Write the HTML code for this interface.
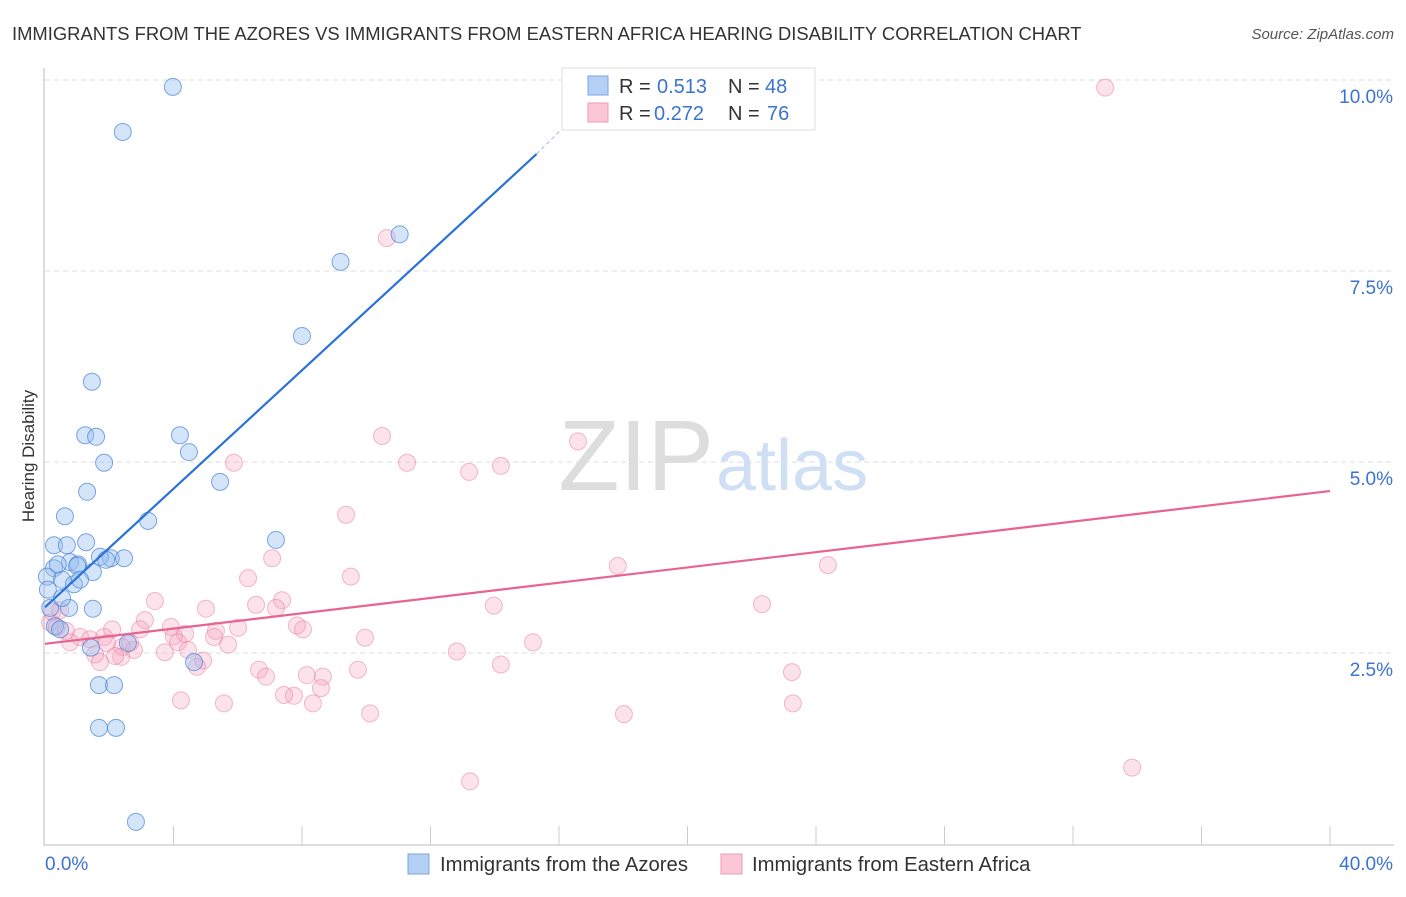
<!DOCTYPE html>
<html><head><meta charset="utf-8"><style>
body{margin:0;background:#fff;font-family:"Liberation Sans",sans-serif}
svg text{font-family:"Liberation Sans",sans-serif}
</style></head><body>
<svg id="chart" width="1406" height="892" viewBox="0 0 1406 892">
<text x="12" y="40" font-size="18.4" fill="#333">IMMIGRANTS FROM THE AZORES VS IMMIGRANTS FROM EASTERN AFRICA HEARING DISABILITY CORRELATION CHART</text>
<text x="1394" y="39" font-size="15" fill="#555" text-anchor="end" font-style="italic">Source: ZipAtlas.com</text>
<text x="34" y="456" font-size="17" fill="#333" text-anchor="middle" transform="rotate(-90 34 456)">Hearing Disability</text>
<g id="grid"></g>
<g id="axes"></g>
<text x="714" y="490" font-size="100" fill="#ddd" text-anchor="end" font-family="Liberation Serif">ZIP</text>
<text x="716" y="490" font-size="72" fill="#cfe0f4">atlas</text>
<g id="pts"></g>
<g id="lines"></g>
<g>
<rect x="562" y="68" width="253" height="62" fill="#fff" stroke="#ddd"/>
<rect x="588" y="76" width="20" height="19" fill="#b5d0f5" stroke="#7aa6e6"/>
<rect x="588" y="103" width="20" height="19" fill="#fbc6d6" stroke="#f09ab4"/>
<text x="619" y="93" font-size="20" fill="#333">R =</text>
<text x="657" y="93" font-size="20" fill="#3b73d1">0.513</text>
<text x="728" y="93" font-size="20" fill="#333">N =</text>
<text x="765" y="93" font-size="20" fill="#3b73d1">48</text>
<text x="619" y="120" font-size="20" fill="#333">R =</text>
<text x="654" y="120" font-size="20" fill="#3b73d1">0.272</text>
<text x="728" y="120" font-size="20" fill="#333">N =</text>
<text x="767" y="120" font-size="20" fill="#3b73d1">76</text>
</g>
<g>
<rect x="408" y="854" width="21" height="20" fill="#b5d0f5" stroke="#7aa6e6"/>
<text x="440" y="871" font-size="20.3" fill="#333">Immigrants from the Azores</text>
<rect x="721" y="854" width="21" height="20" fill="#fbc6d6" stroke="#f09ab4"/>
<text x="752" y="871" font-size="20.3" fill="#333">Immigrants from Eastern Africa</text>
</g>
</svg>
<script>
const yTicks=[2.5,5.0,7.5,10.0];
const yTickLabels=["2.5%","5.0%","7.5%","10.0%"];
const xTickLabels=["0.0%","40.0%"];
const blueX=[3.98,2.42,11.04,9.20,8.00,1.46,1.25,1.59,4.20,4.48,1.84,5.45,1.31,0.62,3.21,7.19,0.28,0.68,1.28,2.05,2.46,0.78,1.03,1.71,0.28,1.00,1.49,0.06,0.53,0.90,0.16,0.75,1.49,0.31,0.47,1.43,2.58,4.64,1.68,2.15,1.68,2.21,2.83,0.40,0.09,0.53,1.09,1.90];
const blueY=[9.91,9.32,7.98,7.62,6.65,6.05,5.35,5.33,5.35,5.13,4.99,4.74,4.61,4.29,4.23,3.98,3.91,3.91,3.95,3.74,3.74,3.69,3.66,3.76,3.61,3.64,3.56,3.50,3.46,3.40,3.09,3.09,3.08,2.85,2.81,2.57,2.63,2.38,2.08,2.08,1.52,1.52,0.29,3.66,3.33,3.22,3.46,3.72];
const pinkX=[33.00,10.64,10.49,16.59,11.27,13.20,14.19,5.88,9.37,7.07,17.83,24.37,9.52,6.32,22.32,13.97,7.38,3.42,5.01,7.19,6.57,3.11,2.09,3.92,7.84,8.03,2.96,5.32,6.01,4.36,4.01,9.96,15.19,5.26,4.14,1.09,1.40,1.84,0.78,0.16,0.37,1.93,2.40,2.65,2.77,4.45,5.70,3.73,12.82,2.37,1.71,4.92,4.73,6.66,9.74,14.19,6.88,8.65,8.59,23.25,8.15,7.75,7.44,4.23,5.57,8.34,23.28,18.02,10.12,33.84,13.23,1.56,0.47,2.18,0.22,0.65];
const pinkY=[9.90,7.93,5.34,5.27,4.99,4.87,4.95,4.99,4.31,3.74,3.64,3.65,3.50,3.48,3.14,3.12,3.19,3.18,3.08,3.09,3.13,2.93,2.81,2.84,2.86,2.81,2.81,2.79,2.83,2.75,2.72,2.70,2.64,2.71,2.64,2.71,2.68,2.71,2.64,2.90,2.84,2.63,2.58,2.63,2.54,2.54,2.61,2.51,2.52,2.45,2.38,2.40,2.32,2.28,2.28,2.35,2.19,2.19,2.04,2.25,2.21,1.94,1.95,1.88,1.84,1.84,1.84,1.70,1.71,1.00,0.82,2.48,3.06,2.46,3.04,2.79];
const blueTrend=[0,3.10,15.3,9.03];
const blueDash=[15.3,9.03,16.93,9.71];
const pinkTrend=[0,2.62,40,4.62];
const X0=45,X1=1330,Y0=844,Y1=80;
const sx=v=>X0+(X1-X0)*v/40, sy=v=>Y0-(Y0-Y1)*v/10;
const NS='http://www.w3.org/2000/svg';
function mk(t,a,p){const e=document.createElementNS(NS,t);for(const k in a)e.setAttribute(k,a[k]);p.appendChild(e);return e;}
const grid=document.getElementById('grid'),axes=document.getElementById('axes');
yTicks.forEach((v,i)=>{
 const g=mk('line',{x1:X0,x2:1394,y1:sy(v),y2:sy(v),stroke:'#ddd','stroke-dasharray':'5,4'},grid);
 
 
 const t=mk('text',{x:1393,y:sy(v)+23,'font-size':19,fill:'#3b73d1','text-anchor':'end'},axes);
 t.textContent=yTickLabels[i];
 
 
});
const ax=mk('path',{d:`M44 68V845H1394`,stroke:'#bbb',fill:'none'},axes);


for(let i=1;i<=10;i++){const tk=mk('line',{x1:sx(i*4),x2:sx(i*4),y1:826,y2:845,stroke:'#ccc'},axes);
 
 }
const xl0=mk('text',{x:45,y:870,'font-size':19,fill:'#3b73d1'},axes);xl0.textContent=xTickLabels[0];


const xl1=mk('text',{x:1393,y:870,'font-size':19,fill:'#3b73d1','text-anchor':'end'},axes);xl1.textContent=xTickLabels[1];


const pts=document.getElementById('pts');
pinkX.forEach((x,i)=>{const c=mk('circle',{cx:sx(x),cy:sy(pinkY[i]),r:8.5,fill:'rgba(246,160,188,0.3)',stroke:'rgba(232,120,158,0.5)','stroke-width':1},pts);
 
 });
blueX.forEach((x,i)=>{const c=mk('circle',{cx:sx(x),cy:sy(blueY[i]),r:8.5,fill:'rgba(150,190,240,0.4)',stroke:'rgba(70,130,215,0.7)','stroke-width':1},pts);
 
 });
const L=document.getElementById('lines');
const bl=mk('line',{x1:sx(blueTrend[0]),y1:sy(blueTrend[1]),x2:sx(blueTrend[2]),y2:sy(blueTrend[3]),stroke:'#2a72d8','stroke-width':2.2},L);


const bd=mk('line',{x1:sx(blueDash[0]),y1:sy(blueDash[1]),x2:sx(blueDash[2]),y2:sy(blueDash[3]),stroke:'#9ab8e6','stroke-width':1,'stroke-dasharray':'4,3'},L);


const pl=mk('line',{x1:sx(pinkTrend[0]),y1:sy(pinkTrend[1]),x2:sx(pinkTrend[2]),y2:sy(pinkTrend[3]),stroke:'#e8648e','stroke-width':2.2},L);


</script>
</body></html>
